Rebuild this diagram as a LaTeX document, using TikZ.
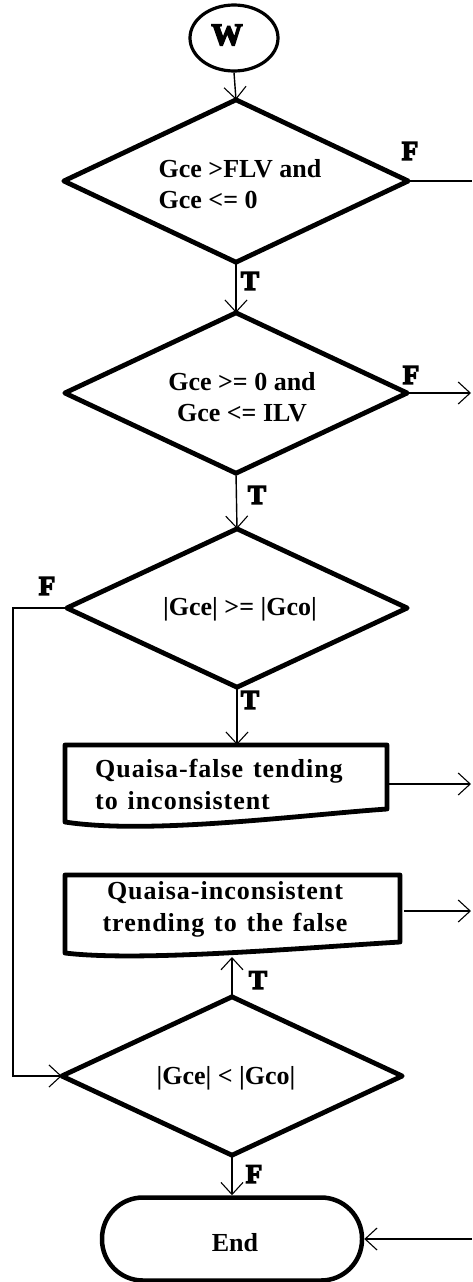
\documentclass[tikz,border=0pt]{standalone}
\usepackage{fontspec}
\setmainfont{Liberation Serif}
\newfontfamily\heavy[FakeBold=5]{Liberation Serif Bold}
\newfontfamily\spaced[LetterSpace=3.8,WordSpace=1.3]{Liberation Serif Bold}
\usetikzlibrary{arrows.meta,shapes.geometric}
\begin{document}
\begin{tikzpicture}[x=1pt,y=-1pt,
  every node/.style={inner sep=0pt, font=\bfseries\fontsize{26}{31}\selectfont},
  shapeline/.style={line width=4.8pt, line join=round},
  conn/.style={line width=1.4pt},
  arr/.style={conn, -{Straight Barb[length=12pt,width=22pt,line width=1.1pt]}},
  lbl/.style={font=\heavy\fontsize{27}{27}\selectfont},
  doctext/.style={font=\spaced\fontsize{26}{32}\selectfont},
]
\useasboundingbox (0,0) rectangle (472,1282);
% start
\node[ellipse, draw, line width=3.2pt, minimum width=88pt, minimum height=66pt] (w) at (234,38) {};
\node[lbl, font=\heavy\fontsize{31}{31}\selectfont] (wt) at (227,35) {W};
% decisions
\node[minimum width=344pt, minimum height=162pt] (d1) at (236,181) {};
\draw[shapeline] (d1.north) -- (d1.east) -- (d1.south) -- (d1.west) -- cycle;
\node[align=left] (d1t) at (240,184) {Gce >FLV and\\Gce <= 0};

\node[minimum width=342pt, minimum height=160pt] (d2) at (236,393) {};
\draw[shapeline] (d2.north) -- (d2.east) -- (d2.south) -- (d2.west) -- cycle;
\node[align=center] (d2t) at (242,397) {Gce >= 0 and\\Gce <= ILV};

\node[minimum width=340pt, minimum height=158pt] (d3) at (237,608) {};
\draw[shapeline] (d3.north) -- (d3.east) -- (d3.south) -- (d3.west) -- cycle;
\node (d3t) at (240,609) {|Gce| >= |Gco|};

\node[minimum width=340pt, minimum height=158pt] (d4) at (232,1076) {};
\draw[shapeline] (d4.north) -- (d4.east) -- (d4.south) -- (d4.west) -- cycle;
\node (d4t) at (226,1078) {|Gce| < |Gco|};

% documents
\node[minimum width=322pt, minimum height=78pt] (q1) at (226,784) {};
\draw[shapeline] (65,745) -- (387,745) -- (387,809) .. controls (300,815) and (150,835) .. (65,822) -- cycle;
\node[doctext, align=left, anchor=west] (q1t) at (95,784) {Quaisa-false tending\\to inconsistent};

\node[minimum width=335pt, minimum height=78pt] (q2) at (232.5,914) {};
\draw[shapeline] (65,875) -- (400,875) -- (400,942) .. controls (300,948) and (140,962) .. (65,953) -- cycle;
\node[doctext, align=center] (q2t) at (225,909) {Quaisa-inconsistent\\trending to the false};

% end
\node[draw, line width=4.5pt, rounded corners=41pt, minimum width=260pt, minimum height=83pt] (end) at (232,1239) {};
\node (endt) at (235,1243) {End};

% free ends
\coordinate (r1) at (472,181);
\coordinate (r2) at (471,393);
\coordinate (r3) at (471,784);
\coordinate (r4) at (471,911);
\coordinate (r5) at (472,1239);
\coordinate (lp) at (13,608);
\coordinate (q2b) at (232,957);

% connectors
\draw[arr] (w.south) -- (d1.north);
\draw[conn] (d1.east) -- (r1);
\draw[arr] (d1.south) -- (d2.north);
\draw[arr] (d2.east) -- (r2);
\draw[arr] (d2.south) -- (d3.north);
\draw[arr] (d3.south) -- (d3.south |- q1.north);
\draw[arr] (q1.east) -- (r3);
\draw[arr] ([xshift=4pt]q2.east |- r4) -- (r4);
\draw[arr] (d4.north) -- (q2b);
\draw[arr] (d3.west) -- (lp) |- (d4.west);
\draw[arr] (d4.south) -- (end.north);
\draw[arr] (r5) -- (end.east);

% labels
\node[lbl] (f1) at (410,151) {F};
\node[lbl] (t1) at (250,281) {T};
\node[lbl] (f2) at (411,375) {F};
\node[lbl] (t2) at (257,495) {T};
\node[lbl] (f3) at (47,586) {F};
\node[lbl] (t3) at (250,700) {T};
\node[lbl] (t4) at (258,980) {T};
\node[lbl] (f4) at (254,1174) {F};
\end{tikzpicture}
\end{document}
